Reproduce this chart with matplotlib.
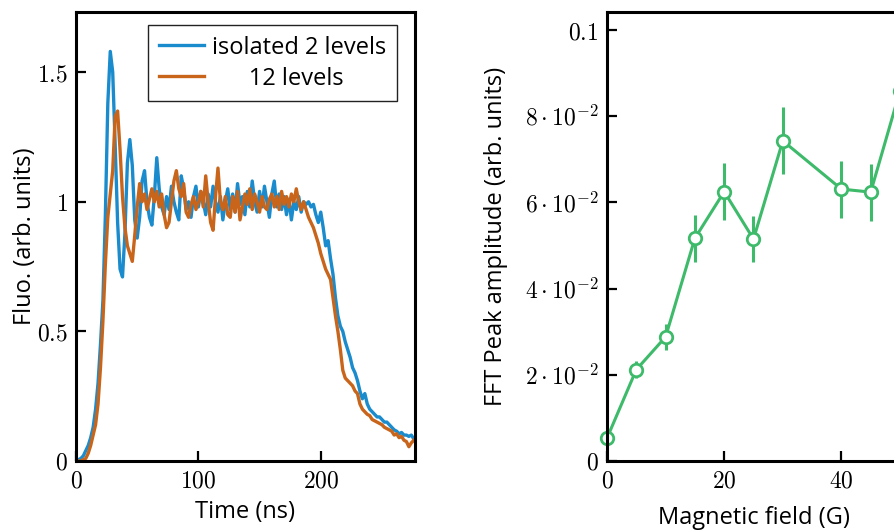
import matplotlib
matplotlib.use("Agg")
import matplotlib.pyplot as plt
import numpy as np

plt.rcParams['font.family'] = ['Open Sans', 'DejaVu Sans']
plt.rcParams['mathtext.fontset'] = 'cm'

# left panel: fluorescence traces, one sample every 2 ns
time_ns = np.arange(0, 278, 2)
fluo_2lev = [
    0.0, 0.005, 0.01, 0.02, 0.04, 0.06, 0.09, 0.13, 0.2, 0.3,
    0.45, 0.62, 0.95, 1.38, 1.58, 1.5, 1.22, 0.92, 0.74, 0.71,
    0.88, 1.15, 1.24, 1.14, 0.93, 0.86, 0.94, 1.08, 1.12, 1.0,
    0.94, 0.91, 1.02, 1.17, 1.05, 0.98, 0.95, 1.02, 0.97, 1.06,
    1.0, 0.96, 0.93, 1.1, 1.05, 0.97, 1.0, 0.94, 1.02, 1.06,
    0.98, 1.04, 1.0, 0.95, 1.03, 0.98, 1.06, 1.0, 0.96, 1.02,
    0.93, 1.0, 1.05, 0.97, 1.03, 0.96, 1.07, 0.99, 1.02, 0.95,
    1.04, 0.98, 1.08, 1.0, 0.96, 1.04, 0.98, 1.06, 1.0, 0.94,
    1.03, 1.08, 0.98, 1.03, 0.97, 1.02, 0.95, 1.01, 0.93, 1.0,
    0.97, 1.02, 0.96, 1.0, 0.99, 1.0, 0.98, 0.99, 0.95, 0.92,
    0.96, 0.9, 0.83, 0.85, 0.78, 0.72, 0.63, 0.56, 0.52, 0.5,
    0.46, 0.43, 0.4, 0.36, 0.34, 0.31, 0.27, 0.24, 0.26, 0.22,
    0.2, 0.19, 0.18, 0.17, 0.17, 0.16, 0.15, 0.15, 0.14, 0.13,
    0.12, 0.115, 0.105, 0.11, 0.1, 0.1, 0.095, 0.1, 0.085,
]
fluo_12lev = [
    0.0, 0.0, 0.0, 0.005, 0.01, 0.03, 0.06, 0.1, 0.14, 0.22,
    0.36, 0.54, 0.76, 0.94, 1.03, 1.12, 1.33, 1.35, 1.2, 1.02,
    0.9, 0.83, 0.8, 0.77, 0.87, 0.98, 1.07, 1.0, 1.03, 0.97,
    1.01, 1.05, 1.0, 1.04, 0.98, 1.03, 0.95, 0.9, 0.92, 1.0,
    1.08, 1.12, 1.05, 1.02, 1.07, 0.96, 0.94, 0.99, 1.02, 0.97,
    1.0, 1.04, 0.98, 1.1, 1.0, 0.92, 0.89, 1.02, 1.13, 1.0,
    0.97, 1.02, 0.95, 0.94, 1.02, 0.96, 1.04, 0.93, 0.98, 1.03,
    0.99, 1.05, 0.97, 1.03, 1.0, 0.96, 1.02, 0.98, 0.97, 1.01,
    1.03, 0.98, 1.02, 0.97, 1.04, 0.99, 1.02, 0.98, 1.03, 1.0,
    1.05, 1.0, 0.97, 1.0, 0.97, 0.94, 0.92, 0.9, 0.87, 0.84,
    0.8, 0.77, 0.74, 0.72, 0.7, 0.63, 0.56, 0.5, 0.43, 0.35,
    0.32, 0.31, 0.3, 0.29, 0.27, 0.26, 0.22, 0.2, 0.19, 0.18,
    0.175, 0.16, 0.155, 0.15, 0.145, 0.14, 0.13, 0.125, 0.12, 0.115,
    0.1, 0.105, 0.09, 0.095, 0.08, 0.075, 0.055, 0.07, 0.08,
]
labels_left = ['isolated 2 levels', '      12 levels']

# right panel: FFT peak amplitude vs magnetic field
field_G = [0, 5, 10, 15, 20, 25, 30, 40, 45, 50]
fft_amp = [0.0053, 0.0212, 0.0288, 0.0517, 0.0625, 0.0515, 0.0743, 0.0631, 0.0624, 0.0859]
fft_err = [0.0, 0.002, 0.003, 0.0055, 0.0066, 0.0054, 0.0078, 0.0066, 0.0066, 0.0066]

blue = '#1a8bcc'
orange = '#c8651b'
green = '#3dba6a'
fs = 17

fig = plt.figure(figsize=(8.95, 5.3), dpi=100)
ax1 = fig.add_axes([76 / 895, 69 / 530, 339 / 895, 449 / 530])
ax2 = fig.add_axes([607 / 895, 69 / 530, 293 / 895, 449 / 530])

ax1.plot(time_ns, fluo_2lev, color=blue, lw=2.4, label=labels_left[0])
ax1.plot(time_ns, fluo_12lev, color=orange, lw=2.4, label=labels_left[1])
ax1.set_xlim(0, 277)
ax1.set_ylim(0, 1.732)
ax1.set_xticks([0, 100, 200], ['$0$', '$100$', '$200$'])
ax1.set_yticks([0, 0.5, 1, 1.5], ['$0$', '$0.5$', '$1$', '$1.5$'])
ax1.set_xlabel('Time (ns)', fontsize=fs, labelpad=5)
ax1.set_ylabel('Fluo. (arb. units)', fontsize=fs, labelpad=0)
leg = ax1.legend(loc='upper right', bbox_to_anchor=(321 / 339, 1 - 13 / 449),
                 borderaxespad=0, fontsize=fs, fancybox=False, framealpha=1,
                 edgecolor='#222222', handlelength=1.9, handletextpad=0.35,
                 labelspacing=0.3, borderpad=0.45)
leg.get_frame().set_linewidth(1.0)

ax2.errorbar(field_G, fft_amp, yerr=fft_err, fmt='-o', color=green, lw=2.2,
             elinewidth=2.2, capsize=0, ms=9, mfc='white', mec=green, mew=2.0,
             clip_on=False)
ax2.set_xlim(0, 50)
ax2.set_ylim(0, 0.1042)
ax2.set_xticks([0, 20, 40], ['$0$', '$20$', '$40$'])
ax2.set_yticks([0, 0.02, 0.04, 0.06, 0.08, 0.1],
               ['$0$', r'$2\cdot10^{-2}$', r'$4\cdot10^{-2}$', r'$6\cdot10^{-2}$',
                r'$8\cdot10^{-2}$', '$0.1$'])
ax2.set_xlabel('Magnetic field (G)', fontsize=fs, labelpad=9)
ax2.set_ylabel('FFT Peak amplitude (arb. units)', fontsize=fs, labelpad=12)

for ax in (ax1, ax2):
    for sp in ax.spines.values():
        sp.set_linewidth(2.2)
    ax.tick_params(direction='in', length=7, width=1.6, labelsize=fs, pad=6,
                   top=False, right=False)

fig.savefig('out.png', dpi=100)
